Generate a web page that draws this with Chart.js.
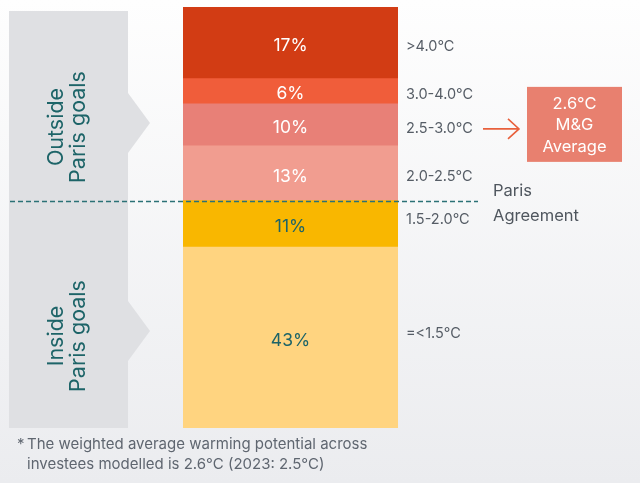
<!DOCTYPE html>
<html>
<head>
<meta charset="utf-8">
<script src="https://cdn.jsdelivr.net/npm/chart.js@4"></script>
<style>
  html, body { margin: 0; padding: 0; }
  body { width: 640px; height: 483px; background: linear-gradient(#fefefe, #ebecef); }
  #wrap { position: relative; width: 640px; height: 483px; }
</style>
</head>
<body>
<div id="wrap"><canvas id="warmingChart" width="640" height="483"></canvas></div>
<script>
// Data, bottom of the bar to top
const bands = ['=<1.5°C', '1.5-2.0°C', '2.0-2.5°C', '2.5-3.0°C', '3.0-4.0°C', '>4.0°C'];
const shares = [43, 11, 13, 10, 6, 17];
const bandColours = ['#ffd480', '#f9b700', '#f19d90', '#e88077', '#f05d3a', '#d23c14'];
const valueTextColours = ['#1d6468', '#1d6468', '#ffffff', '#ffffff', '#ffffff', '#ffffff'];
const parisLimitIndex = 2; // bands below this index are inside Paris goals
const averageBandIndex = 3;
const averageText = ['2.6°C', 'M&G', 'Average'];
const footnote = ['The weighted average warming potential across', 'investees modelled is 2.6°C (2023: 2.5°C)'];

const FONT = 'Inter, "Noto Sans", sans-serif';
const TEAL = '#1d6468';
const GREY_TEXT = '#565d66';

// Draws the grey side panel with its two chevrons
function drawPanel(ctx, top, bottom, chevrons) {
  ctx.save();
  ctx.fillStyle = '#dfe0e3';
  ctx.beginPath();
  ctx.rect(9, top, 119, bottom - top);
  ctx.fill();
  chevrons.forEach(cy => {
    ctx.beginPath();
    ctx.moveTo(128, cy - 30);
    ctx.lineTo(150, cy);
    ctx.lineTo(128, cy + 30);
    ctx.closePath();
    ctx.fill();
  });
  ctx.restore();
}

function drawRotatedLines(ctx, lines, cx, cy) {
  ctx.save();
  ctx.translate(cx, cy);
  ctx.rotate(-Math.PI / 2);
  ctx.fillStyle = TEAL;
  ctx.font = '21.5px ' + FONT;
  ctx.textAlign = 'center';
  ctx.textBaseline = 'middle';
  ctx.fillText(lines[0], 0, -11);
  ctx.fillText(lines[1], 0, 11);
  ctx.restore();
}

const decorations = {
  id: 'decorations',
  beforeDatasetsDraw(chart) {
    const ctx = chart.ctx;
    drawPanel(ctx, 11, 428, [123, 331]);
    drawRotatedLines(ctx, ['Outside', 'Paris goals'], 68, 127);
    drawRotatedLines(ctx, ['Inside', 'Paris goals'], 68, 336);
  },
  afterDatasetsDraw(chart) {
    const ctx = chart.ctx;
    const y = chart.scales.y;
    const area = chart.chartArea;
    const mid = (i) => {
      const el = chart.getDatasetMeta(i).data[0];
      return (el.y + el.base) / 2;
    };

    ctx.save();
    // values inside the bar
    ctx.font = '17.5px ' + FONT;
    ctx.textAlign = 'center';
    ctx.textBaseline = 'middle';
    shares.forEach((v, i) => {
      ctx.fillStyle = valueTextColours[i];
      ctx.fillText(v + '%', (area.left + area.right) / 2, mid(i) + 3);
    });

    // band labels on the right
    ctx.font = '14.5px ' + FONT;
    ctx.textAlign = 'left';
    ctx.fillStyle = GREY_TEXT;
    bands.forEach((b, i) => {
      const shift = i < parisLimitIndex ? -4 : 3.5;
      ctx.fillText(b, area.right + 8, mid(i) + shift);
    });

    // Paris agreement dashed line
    let below = 0;
    for (let i = 0; i < parisLimitIndex; i++) below += shares[i];
    const ly = Math.round(y.getPixelForValue(below)) + 0.5;
    ctx.strokeStyle = '#2b7176';
    ctx.lineWidth = 1.3;
    ctx.setLineDash([5, 3]);
    ctx.beginPath();
    ctx.moveTo(10, ly);
    ctx.lineTo(478, ly);
    ctx.stroke();
    ctx.setLineDash([]);

    ctx.font = '16.5px ' + FONT;
    ctx.fillStyle = '#4f565e';
    ctx.fillText('Paris', 493, ly - 10);
    ctx.fillText('Agreement', 493, ly + 15);

    // arrow to the average box
    const ay = mid(averageBandIndex) + 4;
    ctx.strokeStyle = '#e8603c';
    ctx.lineWidth = 1.6;
    ctx.beginPath();
    ctx.moveTo(483, ay);
    ctx.lineTo(519, ay);
    ctx.moveTo(508, ay - 10);
    ctx.lineTo(519, ay);
    ctx.lineTo(508, ay + 10);
    ctx.stroke();

    ctx.fillStyle = '#e8806f';
    ctx.fillRect(527, ay - 42, 95, 75);
    ctx.fillStyle = '#ffffff';
    ctx.textAlign = 'center';
    averageText.forEach((t, i) => {
      ctx.fillText(t, 574.5, ay - 25 + i * 21.5);
    });

    // footnote
    ctx.font = '15px ' + FONT;
    ctx.fillStyle = '#5f6670';
    ctx.textAlign = 'left';
    ctx.fillText('*', 17, 444);
    ctx.fillText(footnote[0], 27, 444);
    ctx.fillText(footnote[1], 27, 464);
    ctx.restore();
  }
};

new Chart(document.getElementById('warmingChart'), {
  type: 'bar',
  data: {
    labels: ['Portfolio'],
    datasets: shares.map((v, i) => ({
      label: bands[i],
      data: [v],
      backgroundColor: bandColours[i],
      borderWidth: 0,
      barPercentage: 1,
      categoryPercentage: 1
    }))
  },
  options: {
    responsive: false,
    animation: false,
    layout: { padding: { left: 183, right: 242, top: 7, bottom: 55 } },
    plugins: { legend: { display: false }, tooltip: { enabled: false } },
    scales: {
      x: { stacked: true, display: false },
      y: { stacked: true, display: false, min: 0, max: 100 }
    }
  },
  plugins: [decorations]
});
</script>
</body>
</html>
